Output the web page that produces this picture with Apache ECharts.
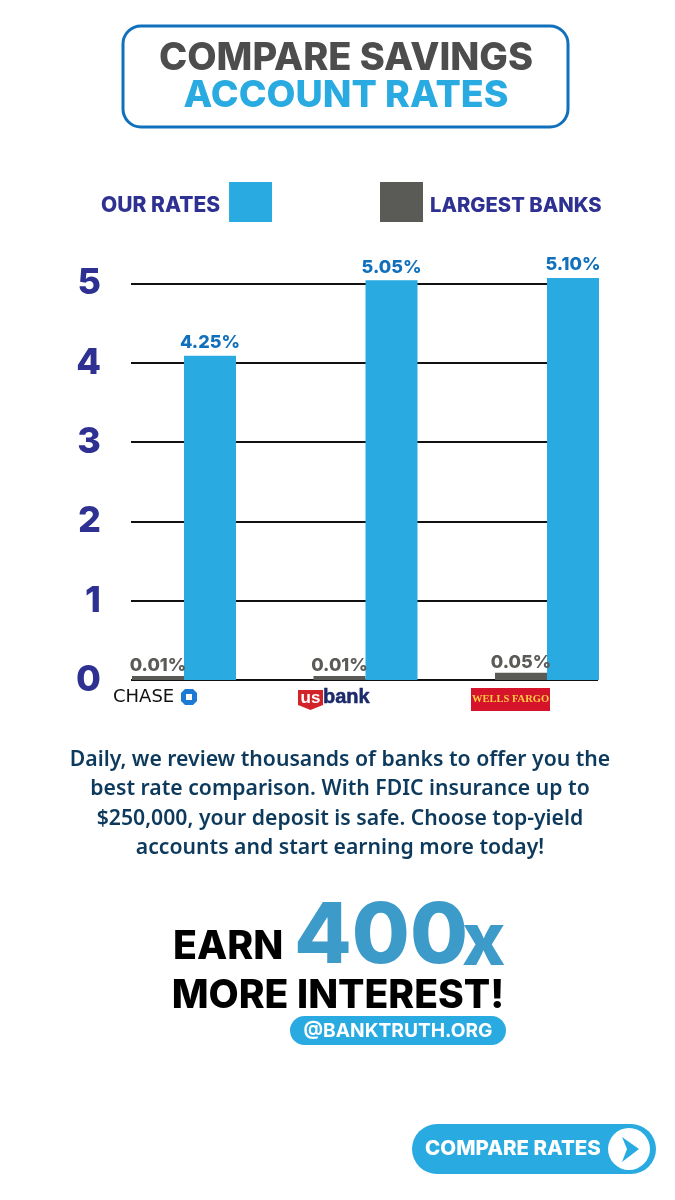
<!DOCTYPE html>
<html>
<head>
<meta charset="utf-8">
<style>html,body{margin:0;padding:0;background:#fff}#chart{width:675px;height:1200px}</style>
<script src="https://cdn.jsdelivr.net/npm/echarts@6/dist/echarts.min.js"></script>
</head>
<body>
<div id="chart"></div>
<script>
const categories = ['Chase', 'US Bank', 'Wells Fargo'];
// bar heights as drawn in the picture, the printed labels do not always agree with them
const ourRates = [4.09, 5.04, 5.07];
const largestBanks = [0.05, 0.05, 0.09];
const ourLabels = ['4.25%', '5.05%', '5.10%'];
const largestLabels = ['0.01%', '0.01%', '0.05%'];
const paragraph = [
  'Daily, we review thousands of banks to offer you the',
  'best rate comparison. With FDIC insurance up to',
  '$250,000, your deposit is safe. Choose top-yield',
  'accounts and start earning more today!'
];

const BLUE = '#29abe2';
const NAVY = '#2e3192';
const GREY = '#5a5a56';
const FONT = 'Inter';

function txt(x, y, text, size, fill, extra) {
  return {
    type: 'text',
    x: x, y: y,
    style: Object.assign({
      text: text, fontSize: size, fill: fill, fontFamily: FONT, fontWeight: 800,
      align: 'center', verticalAlign: 'middle'
    }, extra || {})
  };
}

const graphics = [
  // cabecera
  { type: 'rect', shape: { x: 123, y: 26, width: 445, height: 101, r: 18 }, style: { fill: '#fff', stroke: '#1070bc', lineWidth: 3 } },
  txt(346, 59, 'COMPARE SAVINGS', 38, '#4d4d4d'),
  txt(346, 96, 'ACCOUNT RATES', 37.5, BLUE),

  // logos
  txt(113, 697, 'CHASE', 18, '#111', { align: 'left', fontFamily: 'DejaVu Sans', fontWeight: 400 }),
  { type: 'polygon', shape: { points: [[185, 689], [193, 689], [197, 693], [197, 701], [193, 705], [185, 705], [181, 701], [181, 693]] }, style: { fill: '#1a7ad4' } },
  { type: 'rect', shape: { x: 186, y: 694, width: 6, height: 6 }, style: { fill: '#fff' } },
  { type: 'polygon', shape: { points: [[298, 690], [323, 690], [323, 705], [310.5, 710], [298, 705]] }, style: { fill: '#d2232a' } },
  txt(310.5, 698, 'us', 17, '#fff', { fontFamily: 'Liberation Sans', fontWeight: 700 }),
  txt(323, 697, 'bank', 20, '#1b2a6b', { align: 'left', fontFamily: 'Liberation Sans', fontWeight: 700, stroke: '#1b2a6b', lineWidth: 0.5 }),
  { type: 'rect', shape: { x: 471, y: 688, width: 79, height: 23 }, style: { fill: '#d5142b' } },
  txt(510.5, 699, 'WELLS FARGO', 10.5, '#ffcd41', { fontFamily: 'Liberation Serif', fontWeight: 700 }),

  // pie de pagina
  txt(173, 947, 'EARN', 39.3, '#000', { align: 'left' }),
  txt(294, 938, '400', 84, '#3d9bc9', { align: 'left' }),
  txt(462, 943, 'x', 73, '#3d9bc9', { align: 'left' }),
  txt(338, 996, 'MORE INTEREST!', 39.1, '#000'),
  { type: 'rect', shape: { x: 290, y: 1016, width: 216, height: 29, r: 14.5 }, style: { fill: BLUE } },
  txt(398, 1031, '@BANKTRUTH.ORG', 19.2, '#fff', { fontWeight: 700 }),
  { type: 'rect', shape: { x: 412, y: 1124, width: 244, height: 50, r: 25 }, style: { fill: BLUE } },
  txt(513, 1149, 'COMPARE RATES', 20.5, '#fff'),
  { type: 'circle', shape: { cx: 629, cy: 1149, r: 21 }, style: { fill: '#fff' } },
  { type: 'polygon', shape: { points: [[622, 1137], [639, 1149], [622, 1162], [627, 1149]] }, style: { fill: BLUE } }
];
paragraph.forEach(function (line, i) {
  graphics.push(txt(340, 760 + i * 29.4, line, 21.2, '#0d3a5c', { fontFamily: 'Noto Sans', fontWeight: 600 }));
});

function serie(name, values, labels, color, labelColor, distance) {
  return {
    name: name,
    type: 'bar',
    xAxisIndex: 0,
    yAxisIndex: 0,
    data: values,
    barWidth: 52,
    barGap: 0,
    clip: false,
    z: 5,
    itemStyle: { color: color },
    label: {
      show: true,
      position: 'top',
      distance: distance,
      formatter: function (p) { return labels[p.dataIndex]; },
      color: labelColor,
      fontFamily: FONT,
      fontWeight: 800,
      fontSize: 18
    }
  };
}

const legendBase = {
  top: 177,
  itemWidth: 43,
  itemHeight: 40,
  selectedMode: false,
  icon: 'rect',
  formatter: '{t|{name}}'
};

function legendText(size, padding) {
  const t = { color: NAVY, fontFamily: FONT, fontWeight: 800, fontSize: size, padding: padding };
  return { rich: { t: t } };
}

const opciones = {
  backgroundColor: '#fff',
  animation: false,
  legend: [
    Object.assign({}, legendBase, {
      left: 96, align: 'right', data: ['OUR RATES'],
      textStyle: legendText(21, [8, 4, 0, 0])
    }),
    Object.assign({}, legendBase, {
      left: 375, align: 'left', data: ['LARGEST BANKS'],
      textStyle: legendText(20.2, [8, 0, 0, 2])
    })
  ],
  // grid 0 holds the bars, grid 1 only the shorter rule lines and tick labels
  grid: [
    { left: 93.25, width: 544.5, top: 283.5, height: 396.5 },
    { left: 131, width: 467, top: 283.5, height: 396.5 }
  ],
  xAxis: [
    { type: 'category', gridIndex: 0, data: categories, axisLine: { show: false }, axisTick: { show: false }, axisLabel: { show: false } },
    { type: 'category', gridIndex: 1, data: categories, axisLine: { show: false }, axisTick: { show: false }, axisLabel: { show: false } }
  ],
  yAxis: [
    { type: 'value', gridIndex: 0, min: 0, max: 5, interval: 1, axisLine: { show: false }, axisTick: { show: false }, axisLabel: { show: false }, splitLine: { show: false } },
    {
      type: 'value', gridIndex: 1, min: 0, max: 5, interval: 1,
      axisLine: { show: false },
      axisTick: { show: false },
      axisLabel: { color: NAVY, fontFamily: FONT, fontWeight: 800, fontSize: 36, margin: 30, padding: [0, 0, 9, 0] },
      splitLine: { show: true, lineStyle: { color: '#111', width: 2 } }
    }
  ],
  series: [
    serie('LARGEST BANKS', largestBanks, largestLabels, GREY, GREY, 1),
    serie('OUR RATES', ourRates, ourLabels, BLUE, '#1070bc', 4)
  ],
  graphic: graphics
};

const miGrafico = echarts.init(document.getElementById('chart'), null, { width: 675, height: 1200 });
miGrafico.setOption(opciones);
</script>
</body>
</html>
